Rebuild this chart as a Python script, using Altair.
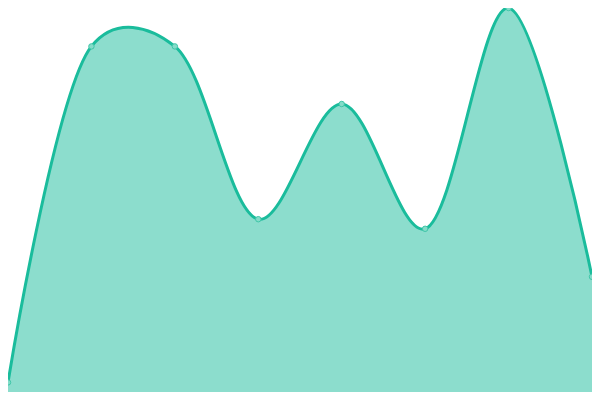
import altair as alt
import pandas as pd

# data (category index and value)
xs = [0, 1, 2, 3, 4, 5, 6, 7]
values = [10, 360, 360, 180, 300, 170, 400, 120]

df = pd.DataFrame({"x": xs, "v": values})

xsc = alt.Scale(domain=[0, 7], nice=False, zero=False)
ysc = alt.Scale(domain=[0, 400], nice=False)

base = alt.Chart(df).encode(
    x=alt.X("x:Q", scale=xsc, axis=None),
    y=alt.Y("v:Q", scale=ysc, axis=None),
)

interp = dict(interpolate="catmull-rom", tension=0.28)

area = base.mark_area(color="#1abc9c", opacity=0.5, **interp)
line = base.mark_line(color="#1abc9c", strokeWidth=3, **interp)
pts = base.mark_point(filled=True, shape="circle", size=30,
                      fill="#84dcc9", fillOpacity=1,
                      stroke="#3fc6a8", strokeOpacity=1, strokeWidth=1)

chart = (area + line + pts).properties(
    width=584, height=384,
    padding=0,
    autosize=alt.AutoSizeParams(type="none"),
).configure_view(stroke=None)

chart.save("out.html", embed_options={"renderer": "svg", "actions": False})
